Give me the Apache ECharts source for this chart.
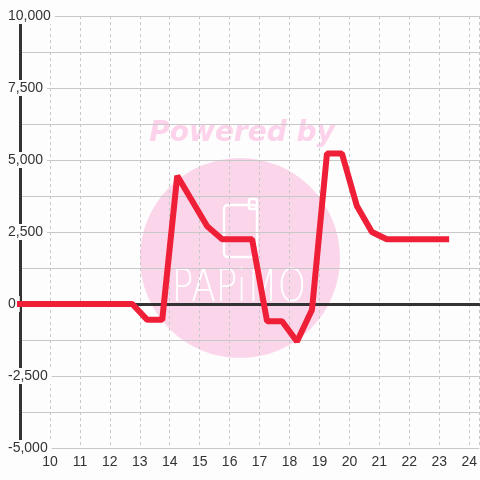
<!DOCTYPE html>
<html>
<head>
<meta charset="utf-8">
<script src="https://cdn.jsdelivr.net/npm/echarts@6/dist/echarts.min.js"></script>
<style>
html,body{margin:0;padding:0;background:#fdfdfd;}
#chart{width:480px;height:480px;}
</style>
</head>
<body>
<div id="chart"></div>
<script>
// Hours (x) and values (y)
var hours = [8.75, 9.25, 9.75, 10.25, 10.75, 11.25, 11.75, 12.25, 12.75, 13.25, 13.75, 14.25, 14.75, 15.25, 15.75, 16.25, 16.75, 17.25, 17.75, 18.25, 18.75, 19.25, 19.75, 20.25, 20.75, 21.25, 21.75, 22.25, 22.75, 23.33];
var values = [0, 0, 0, 0, 0, 0, 0, 0, 0, -550, -550, 4450, 3575, 2700, 2250, 2250, 2250, -600, -600, -1300, -200, 5225, 5225, 3400, 2500, 2250, 2250, 2250, 2250, 2250];
var xMin = 9, xMax = 24.3333, xStep = 1;
var yMin = -5000, yMax = 10000, yStep = 1250, yLabelStep = 2500;

var seriesData = hours.map(function (h, i) { return [h, values[i]]; });

var chart = echarts.init(document.getElementById('chart'), null, {renderer: 'canvas'});
var labelFont = 'Liberation Sans';
var option = {
  backgroundColor: '#fdfdfd',
  animation: false,
  grid: {left: 20, top: 16, right: 0, bottom: 32, containLabel: false},
  graphic: [
    {type: 'circle', z: -10, shape: {cx: 240, cy: 258, r: 100}, style: {fill: '#fbd5ea'}},
    {type: 'text', z: -10, x: 242, y: 134,
      style: {text: 'Powered by', font: 'italic bold 28px "DejaVu Sans"', fill: '#fcd3ea',
        align: 'center', verticalAlign: 'middle', textAlign: 'center', textVerticalAlign: 'middle'}},
    {type: 'rect', z: -9, shape: {x: 224, y: 205, width: 33, height: 52, r: 4},
      style: {fill: 'none', stroke: '#ffffff', lineWidth: 2.5}},
    {type: 'rect', z: -9, shape: {x: 249, y: 199, width: 8, height: 10, r: 2},
      style: {fill: 'none', stroke: '#ffffff', lineWidth: 2.5}},
    {type: 'text', z: -9, x: 239, y: 289, scaleY: 1.25, originX: 0, originY: 0,
      style: {text: 'PAPiMO', font: '200 36px "DejaVu Sans"', fill: '#ffffff',
        align: 'center', verticalAlign: 'middle', textAlign: 'center', textVerticalAlign: 'middle'}}
  ],
  xAxis: [
    {
      type: 'value', min: xMin, max: xMax, interval: xStep,
      position: 'bottom',
      axisLine: {show: false, onZero: false},
      axisTick: {show: false},
      axisLabel: {
        showMinLabel: false, showMaxLabel: false,
        color: '#333', fontSize: 14, fontFamily: labelFont, margin: 7,
        formatter: function (v) { return Number.isInteger(v) ? String(v) : ''; }
      },
      splitLine: {show: true, lineStyle: {color: '#c8c8c8', width: 1, type: [3, 3]}}
    },
    {
      type: 'value', min: xMin, max: xMax, interval: xStep,
      position: 'top',
      axisLine: {show: true, onZero: true, lineStyle: {color: '#333', width: 3}},
      axisTick: {show: false},
      axisLabel: {show: false},
      splitLine: {show: false}
    }
  ],
  yAxis: {
    type: 'value', min: yMin, max: yMax, interval: yStep,
    axisLine: {show: true, lineStyle: {color: '#333', width: 3}},
    axisTick: {show: false},
    axisLabel: {
      color: '#333', fontSize: 14, fontFamily: labelFont, align: 'left', margin: 12,
      backgroundColor: '#fdfdfd', padding: [1, 4, 1, 0],
      formatter: function (v) {
        if (v % yLabelStep !== 0) return '';
        return v.toLocaleString('en-US');
      }
    },
    splitLine: {show: true, lineStyle: {color: '#c8c8c8', width: 1}}
  },
  series: [{
    type: 'line',
    xAxisIndex: 0,
    data: seriesData,
    showSymbol: false,
    symbol: 'none',
    lineStyle: {color: '#ee1f36', width: 6, join: 'bevel', cap: 'butt'},
    z: 5
  }]
};
chart.setOption(option);
</script>
</body>
</html>
